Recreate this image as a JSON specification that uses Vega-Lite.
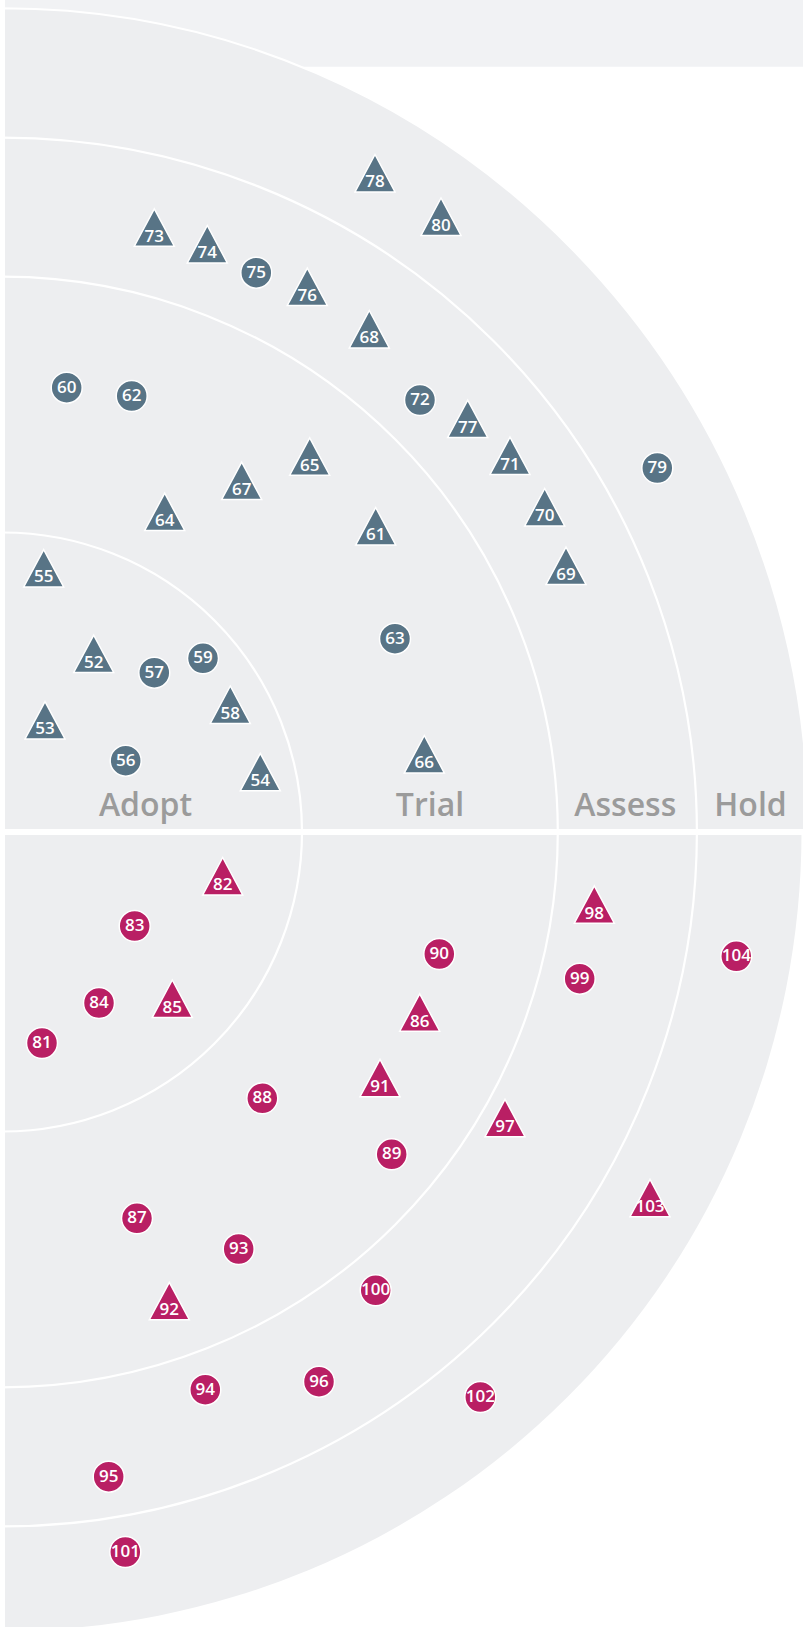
{
  "$schema": "https://vega.github.io/schema/vega-lite/v6.json",
  "width": 803,
  "height": 1627,
  "autosize": "none",
  "padding": 0,
  "background": "white",
  "config": {"view": {"stroke": null}},
  "datasets": {
    "rings": [
      {"ring": "Adopt", "r": 299.5, "labelX": 143, "labelY": 16},
      {"ring": "Trial", "r": 555.3, "labelX": 427.5, "labelY": 16},
      {"ring": "Assess", "r": 694.4, "labelX": 622.8, "labelY": 16},
      {"ring": "Hold", "r": 799, "labelX": 748, "labelY": 16}
    ],
    "blips": [
      {"id": 52, "quadrant": "Tools", "status": "new or moved", "x": 91.2, "y": 178.2},
      {"id": 53, "quadrant": "Tools", "status": "new or moved", "x": 42.5, "y": 111.7},
      {"id": 54, "quadrant": "Tools", "status": "new or moved", "x": 257.8, "y": 60},
      {"id": 55, "quadrant": "Tools", "status": "new or moved", "x": 41.2, "y": 263.7},
      {"id": 56, "quadrant": "Tools", "status": "no change", "x": 123.2, "y": 71.3},
      {"id": 57, "quadrant": "Tools", "status": "no change", "x": 151.8, "y": 159.3},
      {"id": 58, "quadrant": "Tools", "status": "new or moved", "x": 227.8, "y": 127.3},
      {"id": 59, "quadrant": "Tools", "status": "no change", "x": 200.5, "y": 173.7},
      {"id": 60, "quadrant": "Tools", "status": "no change", "x": 64.2, "y": 444.3},
      {"id": 61, "quadrant": "Tools", "status": "new or moved", "x": 373.2, "y": 305.8},
      {"id": 62, "quadrant": "Tools", "status": "no change", "x": 129.2, "y": 436},
      {"id": 63, "quadrant": "Tools", "status": "no change", "x": 392.5, "y": 193.3},
      {"id": 64, "quadrant": "Tools", "status": "new or moved", "x": 162.2, "y": 320.2},
      {"id": 65, "quadrant": "Tools", "status": "new or moved", "x": 307.2, "y": 375.5},
      {"id": 66, "quadrant": "Tools", "status": "new or moved", "x": 421.8, "y": 77.8},
      {"id": 67, "quadrant": "Tools", "status": "new or moved", "x": 239.2, "y": 351.2},
      {"id": 68, "quadrant": "Tools", "status": "new or moved", "x": 366.8, "y": 502.8},
      {"id": 69, "quadrant": "Tools", "status": "new or moved", "x": 563.5, "y": 266.2},
      {"id": 70, "quadrant": "Tools", "status": "new or moved", "x": 542.2, "y": 324.8},
      {"id": 71, "quadrant": "Tools", "status": "new or moved", "x": 507.5, "y": 376.2},
      {"id": 72, "quadrant": "Tools", "status": "no change", "x": 417.5, "y": 432},
      {"id": 73, "quadrant": "Tools", "status": "new or moved", "x": 151.8, "y": 604.5},
      {"id": 74, "quadrant": "Tools", "status": "new or moved", "x": 204.8, "y": 587.8},
      {"id": 75, "quadrant": "Tools", "status": "no change", "x": 253.8, "y": 559.3},
      {"id": 76, "quadrant": "Tools", "status": "new or moved", "x": 304.8, "y": 545.2},
      {"id": 77, "quadrant": "Tools", "status": "new or moved", "x": 465.2, "y": 413.2},
      {"id": 78, "quadrant": "Tools", "status": "new or moved", "x": 372.5, "y": 658.8},
      {"id": 79, "quadrant": "Tools", "status": "no change", "x": 654.8, "y": 364},
      {"id": 80, "quadrant": "Tools", "status": "new or moved", "x": 438.5, "y": 615.3},
      {"id": 81, "quadrant": "Languages & Frameworks", "status": "no change", "x": 39.5, "y": -211},
      {"id": 82, "quadrant": "Languages & Frameworks", "status": "new or moved", "x": 220.2, "y": -44.2},
      {"id": 83, "quadrant": "Languages & Frameworks", "status": "no change", "x": 132.2, "y": -94},
      {"id": 84, "quadrant": "Languages & Frameworks", "status": "no change", "x": 96.5, "y": -171},
      {"id": 85, "quadrant": "Languages & Frameworks", "status": "new or moved", "x": 169.8, "y": -166.7},
      {"id": 86, "quadrant": "Languages & Frameworks", "status": "new or moved", "x": 417.2, "y": -180.5},
      {"id": 87, "quadrant": "Languages & Frameworks", "status": "no change", "x": 134.5, "y": -386.3},
      {"id": 88, "quadrant": "Languages & Frameworks", "status": "no change", "x": 259.8, "y": -266.3},
      {"id": 89, "quadrant": "Languages & Frameworks", "status": "no change", "x": 389.2, "y": -322.3},
      {"id": 90, "quadrant": "Languages & Frameworks", "status": "no change", "x": 436.8, "y": -122},
      {"id": 91, "quadrant": "Languages & Frameworks", "status": "new or moved", "x": 377.5, "y": -246},
      {"id": 92, "quadrant": "Languages & Frameworks", "status": "new or moved", "x": 166.8, "y": -469},
      {"id": 93, "quadrant": "Languages & Frameworks", "status": "no change", "x": 236.2, "y": -417},
      {"id": 94, "quadrant": "Languages & Frameworks", "status": "no change", "x": 202.8, "y": -557.7},
      {"id": 95, "quadrant": "Languages & Frameworks", "status": "no change", "x": 106.2, "y": -644.7},
      {"id": 96, "quadrant": "Languages & Frameworks", "status": "no change", "x": 316.5, "y": -549.7},
      {"id": 97, "quadrant": "Languages & Frameworks", "status": "new or moved", "x": 502.5, "y": -286},
      {"id": 98, "quadrant": "Languages & Frameworks", "status": "new or moved", "x": 591.8, "y": -72.5},
      {"id": 99, "quadrant": "Languages & Frameworks", "status": "no change", "x": 577.2, "y": -146.7},
      {"id": 100, "quadrant": "Languages & Frameworks", "status": "no change", "x": 373.2, "y": -458.3},
      {"id": 101, "quadrant": "Languages & Frameworks", "status": "no change", "x": 122.8, "y": -720},
      {"id": 102, "quadrant": "Languages & Frameworks", "status": "no change", "x": 477.8, "y": -565},
      {"id": 103, "quadrant": "Languages & Frameworks", "status": "new or moved", "x": 647.5, "y": -366},
      {"id": 104, "quadrant": "Languages & Frameworks", "status": "no change", "x": 733.8, "y": -124.3}
    ]
  },
  "layer": [
    {
      "data": {"values": [{"band": "header"}]},
      "mark": {"type": "rect", "color": "#f1f2f4"},
      "encoding": {
        "x": {"datum": -2.5, "type": "quantitative", "scale": {"domain": [-2.5, 800.5], "nice": false, "zero": false}, "axis": null},
        "x2": {"datum": 800.5},
        "y": {"datum": 765.3, "type": "quantitative", "scale": {"domain": [-795, 832], "nice": false, "zero": false}, "axis": null},
        "y2": {"datum": 832}
      }
    },
    {
      "data": {"name": "rings"},
      "transform": [{"filter": "datum.ring === 'Hold'"}],
      "mark": {"type": "arc", "color": "#edeef0"},
      "encoding": {
        "x": {"datum": 0, "type": "quantitative", "scale": {"domain": [-2.5, 800.5], "nice": false, "zero": false}, "axis": null},
        "y": {"datum": 0, "type": "quantitative", "scale": {"domain": [-795, 832], "nice": false, "zero": false}, "axis": null},
        "theta": {"datum": 90, "type": "quantitative", "stack": null, "scale": {"type": "linear", "domain": [0, 360], "range": [0, 6.283185307179586]}},
        "theta2": {"datum": 180},
        "radius": {"field": "r", "type": "quantitative", "scale": {"type": "linear", "domain": [0, 1000], "range": [0, 1000], "zero": true}}
      }
    },
    {
      "data": {"values": [{"quadrant": "Tools"}]},
      "mark": {"type": "point", "shape": "M0,0L0,-8.237A8.06,8.237 0 0 1 8.06,0Z", "filled": true, "fill": "#edeef0", "stroke": "white", "strokeWidth": 2, "opacity": 1, "size": 40000},
      "encoding": {
        "x": {"datum": 0, "type": "quantitative", "scale": {"domain": [-2.5, 800.5], "nice": false, "zero": false}, "axis": null},
        "y": {"datum": 0, "type": "quantitative", "scale": {"domain": [-795, 832], "nice": false, "zero": false}, "axis": null}
      }
    },
    {
      "data": {"name": "rings"},
      "transform": [{"filter": "datum.ring !== 'Hold'"}],
      "mark": {"type": "arc", "fillOpacity": 0, "stroke": "white", "strokeWidth": 2.2},
      "encoding": {
        "x": {"datum": 0, "type": "quantitative", "scale": {"domain": [-2.5, 800.5], "nice": false, "zero": false}, "axis": null},
        "y": {"datum": 0, "type": "quantitative", "scale": {"domain": [-795, 832], "nice": false, "zero": false}, "axis": null},
        "theta": {"datum": 0, "type": "quantitative", "stack": null, "scale": {"type": "linear", "domain": [0, 360], "range": [0, 6.283185307179586]}},
        "theta2": {"datum": 180},
        "radius": {"field": "r", "type": "quantitative", "scale": {"type": "linear", "domain": [0, 1000], "range": [0, 1000], "zero": true}},
        "radius2": {"field": "r"}
      }
    },
    {
      "data": {"values": [{"divider": "horizontal"}]},
      "mark": {"type": "rule", "color": "white", "strokeWidth": 6},
      "encoding": {"y": {"datum": 0, "type": "quantitative", "scale": {"domain": [-795, 832], "nice": false, "zero": false}, "axis": null}}
    },
    {
      "data": {"values": [{"divider": "vertical"}]},
      "mark": {"type": "rule", "color": "white", "strokeWidth": 5},
      "encoding": {"x": {"datum": 0, "type": "quantitative", "scale": {"domain": [-2.5, 800.5], "nice": false, "zero": false}, "axis": null}}
    },
    {
      "data": {"name": "rings"},
      "mark": {"type": "text", "font": "Open Sans", "fontSize": 32, "fontWeight": 600, "color": "#9b9b9b", "align": "center", "baseline": "alphabetic"},
      "encoding": {
        "x": {"field": "labelX", "type": "quantitative", "scale": {"domain": [-2.5, 800.5], "nice": false, "zero": false}, "axis": null},
        "y": {"field": "labelY", "type": "quantitative", "scale": {"domain": [-795, 832], "nice": false, "zero": false}, "axis": null},
        "text": {"field": "ring"}
      }
    },
    {
      "data": {"name": "blips"},
      "transform": [{"filter": "datum.status === 'new or moved'"}],
      "mark": {"type": "point", "shape": "M0,-0.934L1,0.934L-1,0.934Z", "filled": true, "opacity": 1, "size": 1600, "stroke": "white", "strokeWidth": 1.5, "strokeOpacity": 1},
      "encoding": {
        "x": {"field": "x", "type": "quantitative", "scale": {"domain": [-2.5, 800.5], "nice": false, "zero": false}, "axis": null},
        "y": {"field": "y", "type": "quantitative", "scale": {"domain": [-795, 832], "nice": false, "zero": false}, "axis": null},
        "fill": {"field": "quadrant", "type": "nominal", "scale": {"domain": ["Tools", "Languages & Frameworks"], "range": ["#587486", "#b91f64"]}, "legend": null}
      }
    },
    {
      "data": {"name": "blips"},
      "transform": [{"filter": "datum.status === 'no change'"}],
      "mark": {"type": "point", "shape": "circle", "filled": true, "opacity": 1, "size": 960, "stroke": "white", "strokeWidth": 1.5, "strokeOpacity": 1},
      "encoding": {
        "x": {"field": "x", "type": "quantitative", "scale": {"domain": [-2.5, 800.5], "nice": false, "zero": false}, "axis": null},
        "y": {"field": "y", "type": "quantitative", "scale": {"domain": [-795, 832], "nice": false, "zero": false}, "axis": null},
        "fill": {"field": "quadrant", "type": "nominal", "scale": {"domain": ["Tools", "Languages & Frameworks"], "range": ["#587486", "#b91f64"]}, "legend": null}
      }
    },
    {
      "data": {"name": "blips"},
      "transform": [{"filter": "datum.status === 'new or moved'"}],
      "mark": {"type": "text", "font": "Open Sans", "fontSize": 17, "fontWeight": 600, "color": "white", "align": "center", "baseline": "middle", "dy": 9},
      "encoding": {
        "x": {"field": "x", "type": "quantitative", "scale": {"domain": [-2.5, 800.5], "nice": false, "zero": false}, "axis": null},
        "y": {"field": "y", "type": "quantitative", "scale": {"domain": [-795, 832], "nice": false, "zero": false}, "axis": null},
        "text": {"field": "id"}
      }
    },
    {
      "data": {"name": "blips"},
      "transform": [{"filter": "datum.status === 'no change'"}],
      "mark": {"type": "text", "font": "Open Sans", "fontSize": 17, "fontWeight": 600, "color": "white", "align": "center", "baseline": "middle"},
      "encoding": {
        "x": {"field": "x", "type": "quantitative", "scale": {"domain": [-2.5, 800.5], "nice": false, "zero": false}, "axis": null},
        "y": {"field": "y", "type": "quantitative", "scale": {"domain": [-795, 832], "nice": false, "zero": false}, "axis": null},
        "text": {"field": "id"}
      }
    }
  ]
}
